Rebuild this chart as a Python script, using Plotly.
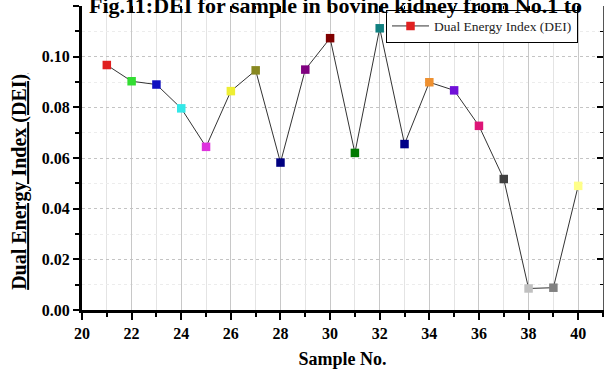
import plotly.graph_objects as go

samples = list(range(21, 41))
dei = [0.0967, 0.0903, 0.0890, 0.0796, 0.0644, 0.0864, 0.0946, 0.0582, 0.0949, 0.1073,
       0.0620, 0.1112, 0.0655, 0.0899, 0.0867, 0.0727, 0.0517, 0.0085, 0.0088, 0.0490]
colors = ["#e02020", "#33dd33", "#1010c0", "#33e8e8", "#dd33dd", "#eeee33", "#888820",
          "#000080", "#800080", "#800000", "#007a00", "#108080", "#000088", "#ee9030",
          "#7010d8", "#dd1577", "#404040", "#c0c0c0", "#808080", "#ffff88"]
y_ticks = [0.0, 0.02, 0.04, 0.06, 0.08, 0.10, 0.12]
y_labels = ["0.00", "0.02", "0.04", "0.06", "0.08", "0.10", ""]

SERIF = "Liberation Serif"

fig = go.Figure()
fig.add_trace(go.Scatter(
    x=samples, y=dei, mode="lines+markers", name="Dual Energy Index (DEI)",
    line=dict(color="#333333", width=1),
    marker=dict(symbol="square", size=8.5, color=colors, line=dict(width=0)),
))
# invisible copy to anchor the mirrored (top/right) axes
fig.add_trace(go.Scatter(
    x=samples, y=dei, xaxis="x2", yaxis="y2", mode="markers",
    marker=dict(opacity=0), showlegend=False, hoverinfo="skip",
))

fig.update_layout(
    width=607, height=371,
    margin=dict(l=82, r=4, t=6, b=53),
    paper_bgcolor="white", plot_bgcolor="white",
    font=dict(family=SERIF, color="black"),
    showlegend=True,
    legend=dict(x=(578 - 82) / 521, xanchor="right", y=0.988, yanchor="top",
                bgcolor="white", bordercolor="black", borderwidth=1,
                itemwidth=37, tracegroupgap=0,
                font=dict(family=SERIF, size=13.5, color="#222")),
    xaxis=dict(
        range=[20, 41], tick0=20, dtick=2, showline=True, linecolor="black", linewidth=3,
        ticks="outside", ticklen=7, tickwidth=2, tickcolor="black",
        tickfont=dict(family=SERIF, size=16, color="black", weight="bold"),
        showgrid=True, gridcolor="#c8c8c8", gridwidth=1, zeroline=False,
        minor=dict(dtick=1, ticks="outside", ticklen=4, tickwidth=2, tickcolor="black",
                   showgrid=True, gridcolor="#e4e4e4", gridwidth=1),
        title=dict(text="Sample No.", font=dict(family=SERIF, size=18, color="black", weight="bold"),
                   standoff=12),
    ),
    yaxis=dict(
        range=[0, 0.12], tickmode="array", tickvals=y_ticks, ticktext=y_labels,
        showline=True, linecolor="black", linewidth=3,
        ticks="outside", ticklen=6, tickwidth=2, tickcolor="black",
        tickfont=dict(family=SERIF, size=16, color="black", weight="bold"),
        showgrid=True, gridcolor="#c4c4c4", gridwidth=1, griddash="dot", zeroline=False,
        minor=dict(dtick=0.01, tick0=0, ticks="outside", ticklen=4, tickwidth=2, tickcolor="black",
                   showgrid=True, gridcolor="#ececec", gridwidth=1),
    ),
    xaxis2=dict(
        range=[20, 41], overlaying="x", side="top", anchor="y2", tick0=20, dtick=2,
        showline=False, ticks="inside", ticklen=6, tickwidth=2, tickcolor="black",
        showticklabels=False, showgrid=False, zeroline=False,
        minor=dict(dtick=1, ticks="inside", ticklen=3, tickwidth=1, tickcolor="black", showgrid=False),
    ),
    yaxis2=dict(
        range=[0, 0.12], overlaying="y", side="right", anchor="x2", tick0=0, dtick=0.02,
        showline=True, linecolor="#555555", linewidth=1,
        ticks="inside", ticklen=6, tickwidth=2, tickcolor="black",
        showticklabels=False, showgrid=False, zeroline=False,
        minor=dict(dtick=0.01, ticks="inside", ticklen=3, tickwidth=1, tickcolor="black", showgrid=False),
    ),
    annotations=[
        dict(text="<u>Dual Energy Index (DEI)</u>", textangle=-90, xref="paper", yref="paper",
             x=(20 - 82) / 521, y=(318 - 186.5) / 312, xanchor="center", yanchor="middle",
             showarrow=False, font=dict(family=SERIF, size=20, color="black", weight="bold")),
        dict(text="Fig.11:DEI for sample in bovine kidney from No.1 to", xref="paper", yref="paper",
             x=(335.5 - 82) / 521, y=(318 - 5.5) / 312, xanchor="center", yanchor="middle",
             showarrow=False, font=dict(family=SERIF, size=22, color="black", weight="bold")),
    ],
)

fig.write_html("out.html")
